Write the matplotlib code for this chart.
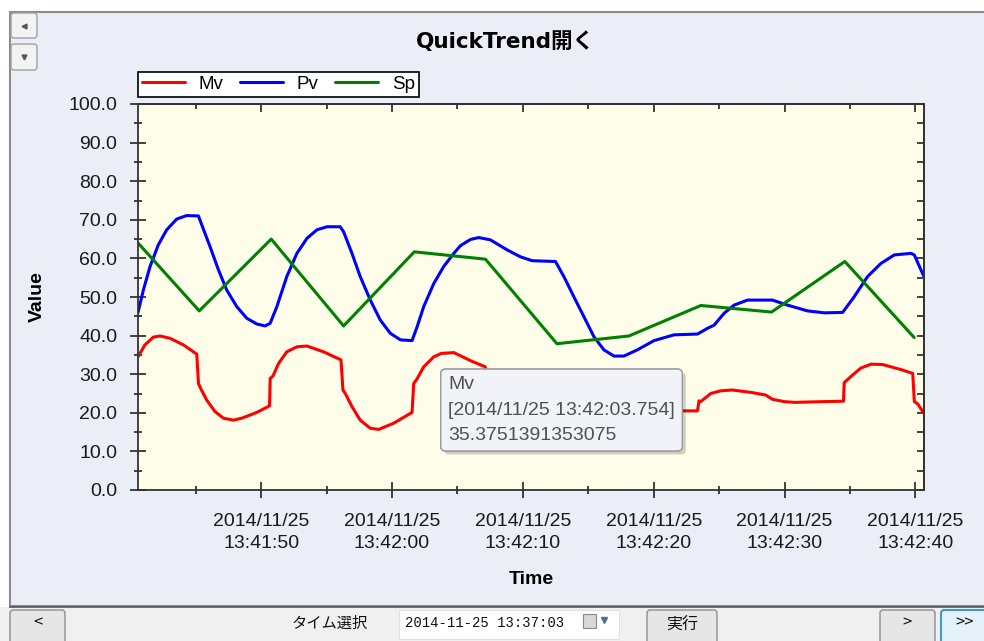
import numpy as np
import matplotlib
matplotlib.use("Agg")
import matplotlib.pyplot as plt
import matplotlib.dates as mdates
import matplotlib.transforms as mtransforms
import matplotlib.patheffects as pe
from matplotlib.patches import FancyBboxPatch, Rectangle
from matplotlib.lines import Line2D
from matplotlib.ticker import MultipleLocator, FormatStrFormatter, NullFormatter

plt.rcParams['font.family'] = ['Liberation Sans', 'Noto Sans CJK JP']

# seconds after 2014-11-25 13:41:40
t_mv = [0.59, 1.12, 1.76, 2.27, 3.04, 4.06, 5.08, 5.21, 5.38, 5.84, 6.48, 7.12, 7.89,
        8.52, 9.67, 10.64, 10.69, 10.90, 11.33, 11.96, 12.73, 13.50, 14.77, 16.10,
        16.25, 16.43, 16.94, 17.57, 18.34, 18.98, 20.13, 21.53, 21.66, 21.86, 22.42,
        23.19, 23.754, 24.72, 26.00, 27.13, 27.22, 27.9, 28.8, 29.8, 30.8, 32.50,
        32.60, 33.3, 34.2, 35.2, 36.6, 38.05, 38.15, 38.9, 40.0, 41.2, 42.44, 43.34,
        43.46, 43.59, 44.35, 45.12, 46.01, 47.41, 48.56, 49.07, 49.96, 50.73, 53.02,
        54.50, 54.55, 55.06, 55.83, 56.60, 57.49, 58.89, 59.79, 59.91, 60.17, 60.63]
mv = [34.5, 37.6, 39.6, 39.9, 39.3, 37.6, 35.2, 27.6, 26.3, 23.3, 20.3, 18.6, 18.1,
      18.6, 20.1, 21.8, 28.9, 29.5, 32.8, 35.8, 37.1, 37.3, 35.8, 33.7,
      25.9, 25.0, 21.6, 18.1, 16.0, 15.7, 17.3, 20.1, 27.6, 28.5, 31.9,
      34.5, 35.3751391353075, 35.6, 33.5, 31.9, 25.2, 23.0, 21.0, 20.0, 20.0, 21.0,
      25.5, 27.5, 29.0, 29.5, 28.7, 27.3, 22.5, 21.3, 20.6, 20.5, 20.5, 20.5,
      23.1, 22.9, 25.0, 25.7, 25.9, 25.3, 24.6, 23.5, 22.9, 22.7, 22.9,
      23.0, 27.8, 29.4, 31.6, 32.6, 32.5, 31.2, 30.2, 22.9, 22.3, 19.9]

t_pv = [0.59, 1.00, 1.51, 2.14, 2.78, 3.55, 4.31, 5.21, 5.46, 6.10, 6.74, 7.37, 8.14,
        8.90, 9.67, 10.31, 10.69, 11.20, 11.96, 12.73, 13.50, 14.26, 15.03, 16.04,
        16.30, 16.94, 17.57, 18.34, 19.11, 19.87, 20.64, 21.53, 21.92, 22.42, 23.19,
        23.95, 24.72, 25.23, 25.99, 26.63, 27.52, 28.80, 29.82, 30.71, 32.49, 33.13,
        33.89, 34.66, 35.43, 36.19, 36.96, 37.72, 38.74, 40.02, 41.55, 43.34, 44.11,
        44.61, 45.38, 46.14, 47.16, 49.07, 50.22, 51.75, 53.02, 54.43, 55.32, 56.34,
        57.36, 58.38, 59.65, 59.91, 60.63]
pv = [46.0, 51.8, 57.9, 63.5, 67.4, 70.2, 71.1, 71.0, 68.7, 63.0, 57.0, 51.8, 47.5,
      44.5, 43.0, 42.5, 43.2, 47.5, 55.3, 61.3, 65.2, 67.4, 68.2, 68.2,
      66.9, 61.3, 55.3, 49.2, 44.0, 40.6, 38.9, 38.7, 42.3, 47.5, 53.5,
      57.9, 61.3, 63.3, 64.9, 65.4, 64.8, 62.2, 60.4, 59.4, 59.2, 55.3,
      50.1, 44.9, 39.7, 36.3, 34.7, 34.7, 36.3, 38.7, 40.2, 40.4, 41.9,
      42.7, 45.8, 47.9, 49.2, 49.2, 47.9, 46.4, 45.9, 46.0, 50.1, 55.3,
      58.7, 60.9, 61.3, 60.9, 55.4]

t_sp = [0.59, 5.27, 10.77, 16.30, 21.70, 27.14, 32.60, 38.10, 43.60, 49.00, 54.60, 59.90]
sp = [64.0, 46.4, 65.0, 42.5, 61.7, 59.8, 37.9, 39.9, 47.8, 46.1, 59.2, 39.5]

start = np.datetime64('2014-11-25T13:41:40', 'ms')


def to_time(secs):
    return start + np.round(np.array(secs) * 1000).astype('timedelta64[ms]')


W, H = 984, 641
fig = plt.figure(figsize=(W / 100, H / 100), dpi=100, facecolor='white')
# pixel coordinates measured from the top-left corner
px = mtransforms.Affine2D().scale(1 / W, -1 / H).translate(0, 1) + fig.transFigure


def ui_box(x0, y0, x1, y1, fc, ec, lw=1.0, r=3, z=1):
    p = FancyBboxPatch((x0, y0), x1 - x0, y1 - y0,
                       boxstyle=f'round,pad=0,rounding_size={r}',
                       fc=fc, ec=ec, lw=lw, transform=px, zorder=z)
    fig.add_artist(p)


# window panel and bottom toolbar
fig.add_artist(Rectangle((10, 12), 980, 594, fc='#ECEEF7', ec='#8C8C8C', lw=1.5,
                         transform=px, zorder=0))
fig.add_artist(Rectangle((0, 607), 984, 40, fc='#F0F0F0', ec='none',
                         transform=px, zorder=0))
fig.add_artist(Line2D([10, 984], [606.5, 606.5], color='#555555', lw=1.2,
                      transform=px, zorder=1))

ui_box(11, 13, 37, 38, '#F3F3F3', '#A0A0A0')
ui_box(11, 44, 37, 70, '#F3F3F3', '#A0A0A0')
fig.add_artist(Line2D([23.5], [25.5], marker='<', ms=3.5, color='#555555', transform=px, zorder=2))
fig.add_artist(Line2D([24], [57], marker='v', ms=3.5, color='#555555', transform=px, zorder=2))

ui_box(10, 610, 65, 645, '#E6E6E6', '#8E8E8E')
ui_box(647, 610, 717, 645, '#E6E6E6', '#8E8E8E')
ui_box(880, 610, 935, 645, '#E6E6E6', '#8E8E8E')
ui_box(941, 610, 990, 645, '#E5F1FB', '#3C98DA', lw=1.5)
fig.add_artist(Rectangle((399, 610), 220, 29, fc='white', ec='#E0E0E0', lw=0.8,
                         transform=px, zorder=1))
fig.add_artist(Rectangle((583, 614), 13, 14, fc='#D8D8D8', ec='#8A8A8A', lw=0.8,
                         transform=px, zorder=2))
fig.add_artist(Line2D([604], [620], marker='v', ms=5, color='#4E6E9E', transform=px, zorder=2))

ui_kw = dict(transform=px, va='center', color='#111111')
fig.text(38, 623, '<', ha='center', fontsize=12, family=['Noto Sans CJK JP'], **ui_kw)
fig.text(330, 624, 'タイム選択', ha='center', fontsize=11, **ui_kw)
fig.text(405, 623, '2014-11-25 13:37:03', ha='left', fontsize=10,
         family=['Liberation Mono'], **ui_kw)
fig.text(682, 625, '実行', ha='center', fontsize=11.5, **ui_kw)
fig.text(907, 623, '>', ha='center', fontsize=12, family=['Noto Sans CJK JP'], **ui_kw)
fig.text(965, 623, '>>', ha='center', fontsize=12, family=['Noto Sans CJK JP'], **ui_kw)

fig.text(505, 42, 'QuickTrend開く', transform=px, ha='center', va='center',
         fontsize=15.5, fontweight='bold', family=['DejaVu Sans', 'Noto Sans CJK JP'])

# trend chart
ax = fig.add_axes([138 / W, 1 - 490 / H, (924 - 138) / W, (490 - 104) / H])
ax.set_facecolor('#FDFDE9')
line_kw = dict(lw=2.2, solid_joinstyle='round', solid_capstyle='round')
ax.plot(to_time(t_mv), mv, color='#FF0000', label='Mv', **line_kw)
ax.plot(to_time(t_pv), pv, color='#0000FF', label='Pv', **line_kw)
ax.plot(to_time(t_sp), sp, color='#008000', label='Sp', **line_kw)

ax.set_xlim(to_time(0.59), to_time(60.65))
ax.set_ylim(0, 100)
ax.yaxis.set_major_locator(MultipleLocator(10))
ax.yaxis.set_minor_locator(MultipleLocator(5))
ax.yaxis.set_major_formatter(FormatStrFormatter('%.1f'))
ax.xaxis.set_major_locator(mdates.SecondLocator(bysecond=range(0, 60, 10)))
ax.xaxis.set_minor_locator(mdates.SecondLocator(bysecond=range(5, 60, 10)))
ax.xaxis.set_major_formatter(mdates.DateFormatter('%Y/%m/%d\n%H:%M:%S'))

for s in ax.spines.values():
    s.set_color('#333333')
    s.set_linewidth(1.3)
ax.tick_params(which='both', direction='inout', color='#333333', width=1.3,
               labelsize=14, labelcolor='#1A1A1A')
ax.tick_params(which='major', length=11)
ax.tick_params(which='minor', length=5.5)
ax.tick_params(axis='y', pad=9.5)
ax.tick_params(axis='x', pad=11)
for lbl in ax.get_xticklabels():
    lbl.set_linespacing(1.37)

# inner ticks along the top and right edges
top = ax.secondary_xaxis('top')
top.xaxis.set_major_locator(mdates.SecondLocator(bysecond=range(0, 60, 10)))
top.xaxis.set_minor_locator(mdates.SecondLocator(bysecond=range(5, 60, 10)))
top.xaxis.set_major_formatter(NullFormatter())
top.tick_params(which='both', direction='in', color='#333333', width=1.3)
top.tick_params(which='major', length=6)
top.tick_params(which='minor', length=3.5)
right = ax.secondary_yaxis('right')
right.yaxis.set_major_locator(MultipleLocator(10))
right.yaxis.set_minor_locator(MultipleLocator(5))
right.yaxis.set_major_formatter(NullFormatter())
right.tick_params(which='both', direction='in', color='#333333', width=1.3, length=5)
for sec in (top, right):
    for s in sec.spines.values():
        s.set_color('#333333')
        s.set_linewidth(1.3)

ax.set_xlabel('Time', fontsize=14, fontweight='bold', labelpad=14)
ax.set_ylabel('Value', fontsize=14, fontweight='bold', labelpad=16)

handles, labels = ax.get_legend_handles_labels()
leg = fig.legend(handles, labels, loc='upper left', bbox_to_anchor=(138 / W, 1 - 72 / H),
                 ncol=3, frameon=True, fancybox=False, edgecolor='black',
                 facecolor='white', framealpha=1, borderpad=0.2, handlelength=2.3,
                 handletextpad=0.75, columnspacing=0.85, borderaxespad=0,
                 prop={'size': 13.5})
leg.get_frame().set_linewidth(1.2)

# hover tooltip on the Mv point
tip_x = to_time(23.754)
tip_v = 35.3751391353075
tip = ax.annotate('Mv\n[2014/11/25 13:42:03.754]\n' + repr(tip_v),
                  xy=(tip_x, tip_v), xytext=(7, -23), textcoords='offset pixels',
                  ha='left', va='top', fontsize=14, color='#505050', linespacing=1.62,
                  annotation_clip=False, zorder=6,
                  bbox=dict(boxstyle='round,pad=0.38,rounding_size=0.25', fc='#F2F3F8',
                            ec='#9A9A9A', lw=1.0))
tip.get_bbox_patch().set_path_effects(
    [pe.withSimplePatchShadow(offset=(2.5, -2.5), shadow_rgbFace='black', alpha=0.18),
     pe.Normal()])

fig.savefig('out.png', dpi=100, facecolor=fig.get_facecolor())
